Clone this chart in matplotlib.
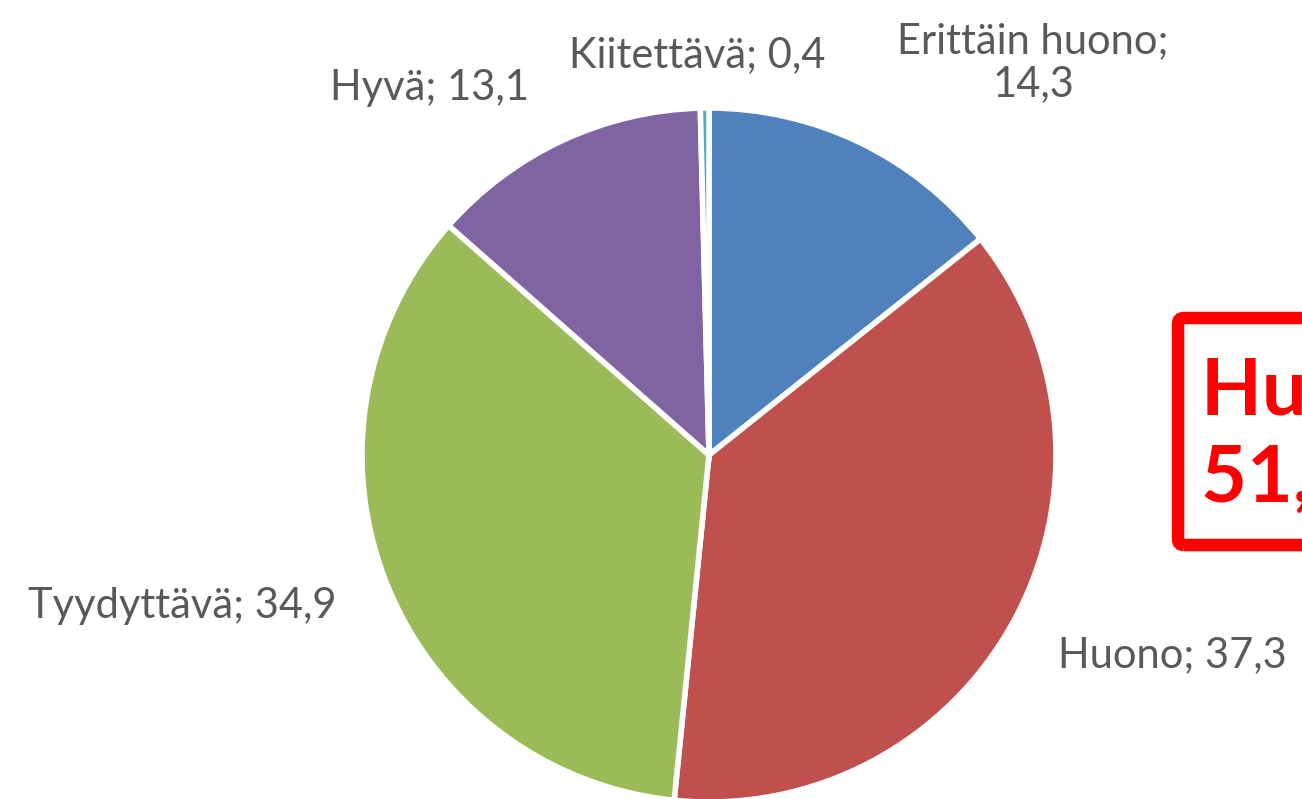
import matplotlib.pyplot as plt
from matplotlib.patches import FancyBboxPatch

categories = ['Erittäin huono', 'Huono', 'Tyydyttävä', 'Hyvä', 'Kiitettävä']
values = [14.3, 37.3, 34.9, 13.1, 0.4]
colors = ['#4F81BD', '#C0504D', '#9BBB59', '#8064A2', '#4BACC6']
summary = 'Huono tai erittäin huono\n51,6 %'

W, H = 1302, 799
fig = plt.figure(figsize=(W / 100, H / 100), dpi=100)
ax = fig.add_axes([0, 0, 1, 1])

ax.pie(values, colors=colors, startangle=90, counterclock=False,
       center=(709, H - 455), radius=347, frame=True,
       wedgeprops=dict(edgecolor='white', linewidth=4))
ax.set_xlim(0, W)
ax.set_ylim(0, H)
ax.set_aspect('equal')
ax.axis('off')

def fmt(name, v):
    return f'{name}; {v:.1f}'.replace('.', ',')

# label positions in pixels (x, y from top)
label_pos = [(1033, 63), (1172, 655), (182, 606), (429, 88), (697, 55)]
for i, (name, v) in enumerate(zip(categories, values)):
    txt = fmt(name, v)
    if i == 0:
        txt = txt.replace('; ', ';\n')
    x, y = label_pos[i]
    ax.text(x, H - y, txt, ha='center', va='center', fontsize=30,
            color='#595959', family='Lato', linespacing=1.15)

box = FancyBboxPatch((1178, H - 545), 300, 227, boxstyle='round,pad=0,rounding_size=6',
                     linewidth=9, edgecolor='#FF0000', facecolor='none')
ax.add_patch(box)
ax.text(1201, H - 436, summary, ha='left', va='center', fontsize=57,
        color='#FF0000', fontweight='bold', family='Lato', linespacing=1.25)

fig.savefig('out.png', dpi=100)
